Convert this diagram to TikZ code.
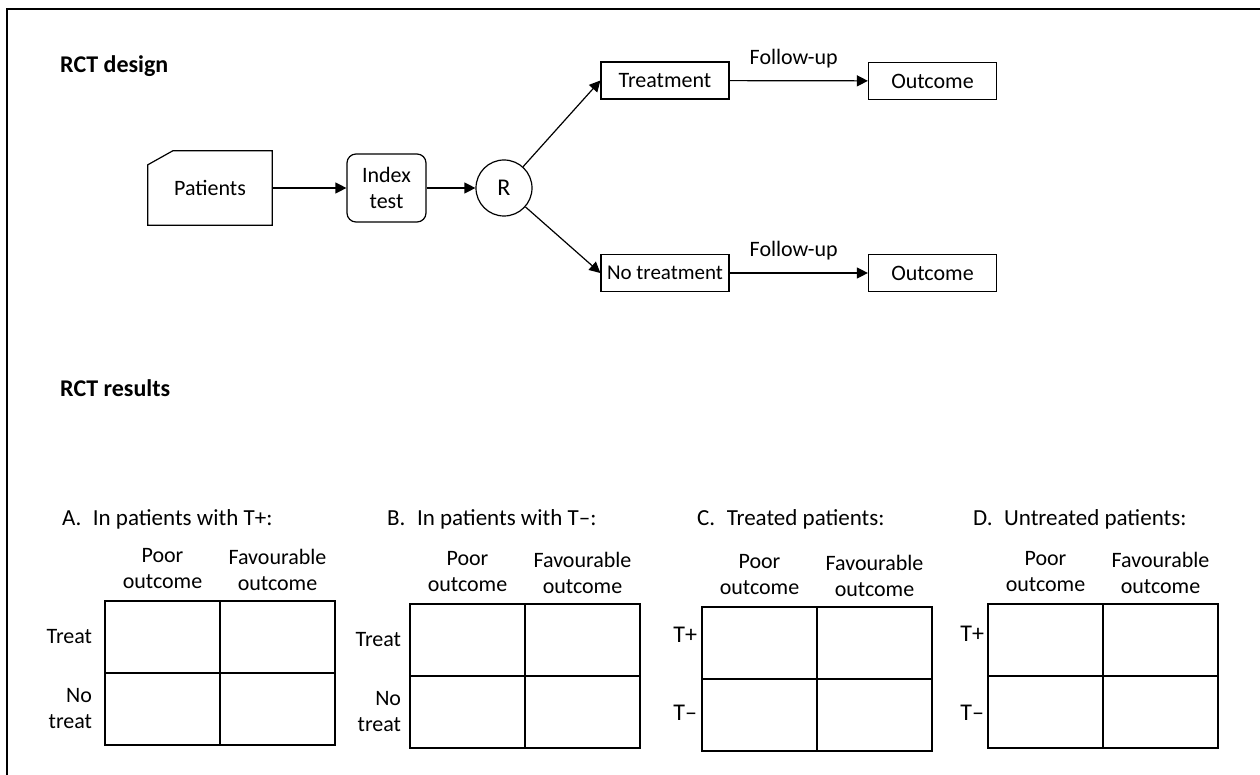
\documentclass[tikz,border=0pt]{standalone}
\usepackage{fontspec}
\setmainfont{Carlito}
\usetikzlibrary{arrows.meta}

% one 2x2 results table: #1 prefix, #2 left x, #3 top y, #4 title x, #5 title
\newcommand\resulttable[5]{%
  \node[cell] (#1a) at (#2+57.5,#3+36) {};
  \node[cell] (#1b) at (#2+172.5,#3+36) {};
  \node[cell] (#1c) at (#2+57.5,#3+108) {};
  \node[cell] (#1d) at (#2+172.5,#3+108) {};
  \node[hdr] (#1p) at (#2+57.5,#3-13) {Poor\\outcome};
  \node[hdr] (#1f) at (#2+172.5,#3-11) {Favourable\\outcome};
  \node[title] (#1t) at (#4,519) {#5};
}

\begin{document}
\begin{tikzpicture}[x=1pt,y=-1pt,
  every node/.style={font=\fontsize{22}{26}\selectfont, inner sep=0pt},
  heading/.style={anchor=west, font=\fontsize{24}{28}\selectfont\bfseries},
  title/.style={anchor=west, font=\fontsize{23}{27}\selectfont},
  box/.style={draw, line width=1.2pt, minimum width=128pt, minimum height=37pt},
  link/.style={line width=1.2pt, -{Triangle[length=11pt,width=11pt]}},
  cell/.style={draw, line width=1.5pt, minimum width=115pt, minimum height=72pt},
  hdr/.style={align=center, anchor=base},
  rowlab/.style={align=right, anchor=east},
  signlab/.style={anchor=east, font=\fontsize{24}{28}\selectfont}]
\useasboundingbox (0,0) rectangle (1260,775);

% outer frame (runs off the right and bottom edges)
\draw[line width=1.5pt] (1262,9) -- (7,9) -- (7,777);

% ---- design ----
\node[heading] (hd1) at (60,66) {RCT design};

\node[minimum width=124pt, minimum height=74pt] (pat) at (210,188) {Patients};
\draw[line width=1.2pt] (pat.south west) -- (pat.south east) -- (pat.north east)
  -- ([xshift=25pt]pat.north west) -- ([yshift=-14pt]pat.north west) -- cycle;

\node[draw, rounded corners=9pt, line width=1.2pt, minimum width=79pt,
      minimum height=68pt, align=center] (idx) at (386.5,188) {Index\\test};
\node[draw, circle, minimum size=56pt, line width=1.2pt,
      font=\fontsize{24}{28}\selectfont] (R) at (504,188) {R};

\node[box] (trt) at (665,80.5) {Treatment};
\node[box] (out1) at (932.5,81) {Outcome};
\node[box, font=\fontsize{21}{26}\selectfont] (ntrt) at (665,273) {No treatment};
\node[box] (out2) at (932.5,273) {Outcome};

\draw[link] (pat) -- (idx);
\draw[link] (idx) -- (R);
\draw[link] (R) -- (trt.west);
\draw[link] (R) -- (ntrt.west);
\draw[link] (trt) -- node[above=12pt, xshift=-5pt] (fu1) {Follow-up} (out1);
\draw[link] (ntrt) -- node[above=12pt, xshift=-5pt] (fu2) {Follow-up} (out2);

% ---- results ----
\node[heading] (hd2) at (60,388) {RCT results};

\resulttable{A}{105}{601}{62}{A.\hspace{0.5em}In patients with T+:}
\resulttable{B}{410}{604}{387}{B.\hspace{0.5em}In patients with T–:}
\resulttable{C}{702}{607}{697}{C.\hspace{0.5em}Treated patients:}
\resulttable{D}{988}{604}{973}{D.\hspace{0.5em}Untreated patients:}

% row labels
\node[rowlab] (Ar1) at ([xshift=-12pt]Aa.west) {Treat};
\node[rowlab] (Ar2) at ([xshift=-12pt]Ac.west) {No\\treat};
\node[rowlab] (Br1) at ([xshift=-8pt]Ba.west) {Treat};
\node[rowlab] (Br2) at ([xshift=-8pt]Bc.west) {No\\treat};
\node[signlab] (Cs1) at ([xshift=-4pt,yshift=8pt]Ca.west) {T+};
\node[signlab] (Cs2) at ([xshift=-4pt,yshift=2pt]Cc.west) {T–};
\node[signlab] (Ds1) at ([xshift=-3pt,yshift=6pt]Da.west) {T+};
\node[signlab] (Ds2) at ([xshift=-3pt,yshift=-1pt]Dc.west) {T–};
\end{tikzpicture}
\end{document}
